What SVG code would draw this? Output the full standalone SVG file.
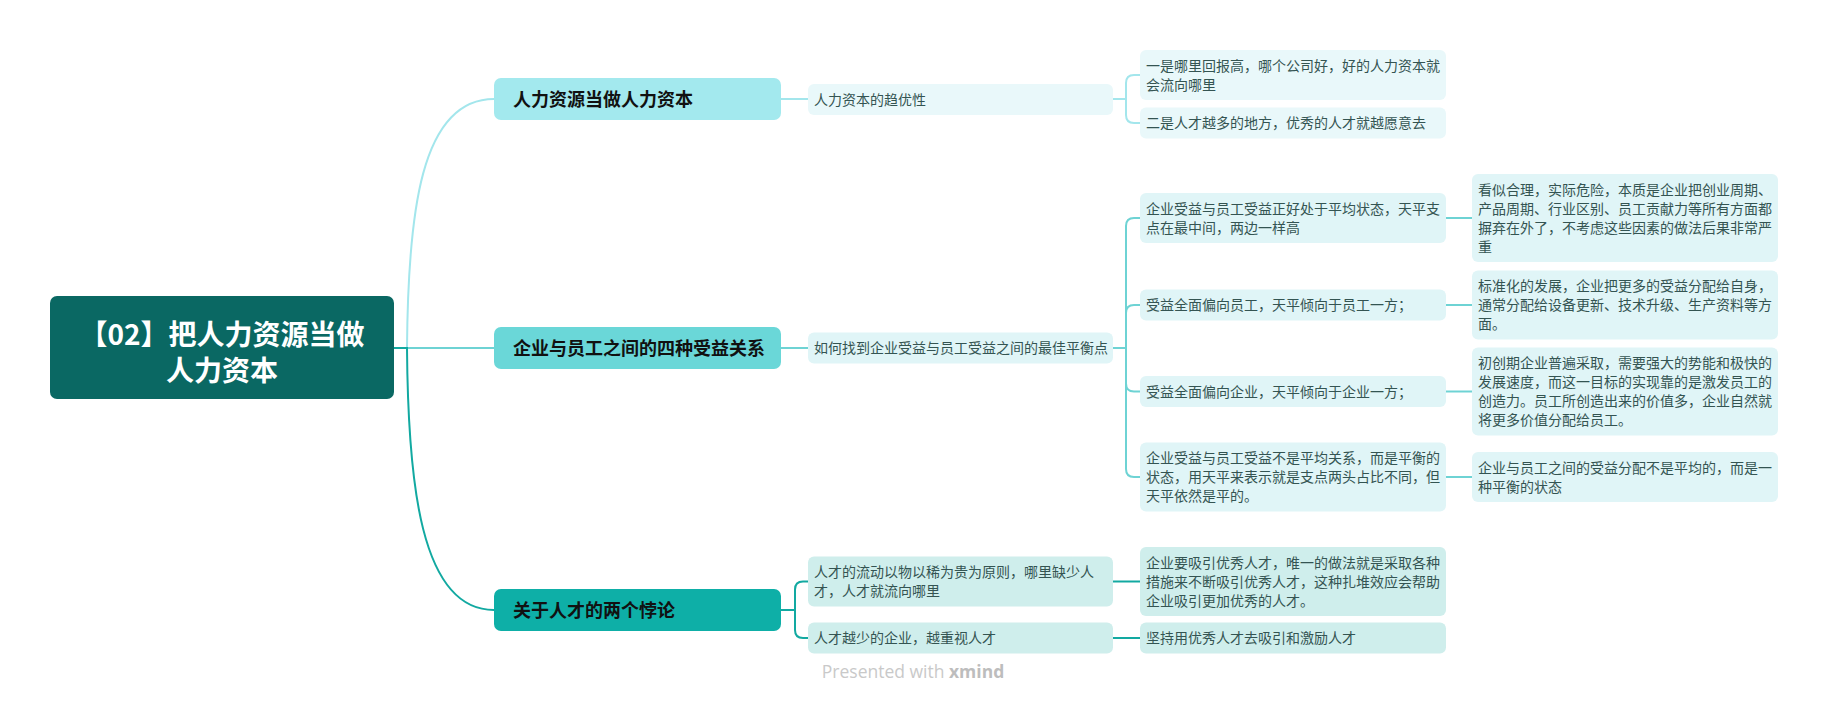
<svg xmlns="http://www.w3.org/2000/svg" width="1828" height="704" viewBox="0 0 1828 704">
<style>
.t{font-family:"Noto Sans CJK SC","Liberation Sans",sans-serif;}
.root{fill:#0a6863;}
.rt{font-size:28px;font-weight:bold;fill:#ffffff;text-anchor:middle;}
.bt{font-size:18px;font-weight:bold;fill:#111111;}
.st{font-size:14px;fill:#345452;}
.b1{fill:#a3e9ee;}
.b2{fill:#6ad7d8;}
.b3{fill:#0eafa7;}
.s1{fill:#e9f8fa;}
.s2{fill:#e0f5f7;}
.s3{fill:#cfeeec;}
.c1{stroke:#a3e6ec;}
.c2{stroke:#6ed3d4;}
.c3{stroke:#12a9a1;}
#connectors path{fill:none;stroke-width:2;}
</style>
<rect width="1828" height="704" fill="#ffffff"/>
<g id="connectors">
<path class="c2" d="M394 348 H494"/>
<path class="c1" d="M394 348 H407 C408 215 420 99 494 99"/>
<path class="c3" d="M394 348 H407 C408 481 420 610 494 610"/>
<path class="c1" d="M781 99 H808"/>
<path class="c2" d="M781 348 H808"/>
<path class="c3" d="M781 610 H795"/>
<path class="c3" d="M795 610 V589.5 Q795 581.5 803 581.5 H808"/>
<path class="c3" d="M795 610 V630 Q795 638 803 638 H808"/>
<path class="c1" d="M1113 99 H1126"/>
<path class="c1" d="M1126 99 V83 Q1126 75 1134 75 H1140"/>
<path class="c1" d="M1126 99 V115 Q1126 123 1134 123 H1140"/>
<path class="c2" d="M1113 348 H1126"/>
<path class="c2" d="M1126 348 V226 Q1126 218 1134 218 H1140"/>
<path class="c2" d="M1126 348 V313 Q1126 305 1134 305 H1140"/>
<path class="c2" d="M1126 348 V383.5 Q1126 391.5 1134 391.5 H1140"/>
<path class="c2" d="M1126 348 V469 Q1126 477 1134 477 H1140"/>
<path class="c3" d="M1113 581.5 H1140"/>
<path class="c3" d="M1113 638 H1140"/>
<path class="c2" d="M1446 218 H1472"/>
<path class="c2" d="M1446 305 H1472"/>
<path class="c2" d="M1446 391.5 H1472"/>
<path class="c2" d="M1446 477 H1472"/>
</g>
<g id="root">
<rect class="root" x="50" y="296" width="344" height="103" rx="7"/>
<text class="t rt" x="222" y="345">【02】把人力资源当做</text>
<text class="t rt" x="222" y="381">人力资本</text>
</g>
<g id="branch1">
<rect class="b1" x="494" y="78" width="287" height="42" rx="7"/>
<text class="t bt" x="513" y="106">人力资源当做人力资本</text>
</g>
<g id="branch2">
<rect class="b2" x="494" y="327" width="287" height="42" rx="7"/>
<text class="t bt" x="513" y="355">企业与员工之间的四种受益关系</text>
</g>
<g id="branch3">
<rect class="b3" x="494" y="589" width="287" height="42" rx="7"/>
<text class="t bt" x="513" y="617">关于人才的两个悖论</text>
</g>
<g id="sub1">
<rect class="s1" x="808" y="84" width="305" height="31" rx="6"/>
<text class="t st" x="814" y="104.5">人力资本的趋优性</text>
</g>
<g id="n1a">
<rect class="s1" x="1140" y="50" width="306" height="50" rx="6"/>
<text class="t st" x="1146" y="70.5">一是哪里回报高，哪个公司好，好的人力资本就</text>
<text class="t st" x="1146" y="89.5">会流向哪里</text>
</g>
<g id="n1b">
<rect class="s1" x="1140" y="107.5" width="306" height="31" rx="6"/>
<text class="t st" x="1146" y="128">二是人才越多的地方，优秀的人才就越愿意去</text>
</g>
<g id="sub2">
<rect class="s2" x="808" y="332.5" width="305" height="31" rx="6"/>
<text class="t st" x="814" y="353">如何找到企业受益与员工受益之间的最佳平衡点</text>
</g>
<g id="n2a">
<rect class="s2" x="1140" y="193" width="306" height="50" rx="6"/>
<text class="t st" x="1146" y="213.5">企业受益与员工受益正好处于平均状态，天平支</text>
<text class="t st" x="1146" y="232.5">点在最中间，两边一样高</text>
</g>
<g id="n2a1">
<rect class="s2" x="1472" y="174" width="306" height="88" rx="6"/>
<text class="t st" x="1478" y="194.5">看似合理，实际危险，本质是企业把创业周期、</text>
<text class="t st" x="1478" y="213.5">产品周期、行业区别、员工贡献力等所有方面都</text>
<text class="t st" x="1478" y="232.5">摒弃在外了，不考虑这些因素的做法后果非常严</text>
<text class="t st" x="1478" y="251.5">重</text>
</g>
<g id="n2b">
<rect class="s2" x="1140" y="289.5" width="306" height="31" rx="6"/>
<text class="t st" x="1146" y="310">受益全面偏向员工，天平倾向于员工一方；</text>
</g>
<g id="n2b1">
<rect class="s2" x="1472" y="270.5" width="306" height="69" rx="6"/>
<text class="t st" x="1478" y="291">标准化的发展，企业把更多的受益分配给自身，</text>
<text class="t st" x="1478" y="310">通常分配给设备更新、技术升级、生产资料等方</text>
<text class="t st" x="1478" y="329">面。</text>
</g>
<g id="n2c">
<rect class="s2" x="1140" y="376" width="306" height="31" rx="6"/>
<text class="t st" x="1146" y="396.5">受益全面偏向企业，天平倾向于企业一方；</text>
</g>
<g id="n2c1">
<rect class="s2" x="1472" y="347.5" width="306" height="88" rx="6"/>
<text class="t st" x="1478" y="368">初创期企业普遍采取，需要强大的势能和极快的</text>
<text class="t st" x="1478" y="387">发展速度，而这一目标的实现靠的是激发员工的</text>
<text class="t st" x="1478" y="406">创造力。员工所创造出来的价值多，企业自然就</text>
<text class="t st" x="1478" y="425">将更多价值分配给员工。</text>
</g>
<g id="n2d">
<rect class="s2" x="1140" y="442.5" width="306" height="69" rx="6"/>
<text class="t st" x="1146" y="463">企业受益与员工受益不是平均关系，而是平衡的</text>
<text class="t st" x="1146" y="482">状态，用天平来表示就是支点两头占比不同，但</text>
<text class="t st" x="1146" y="501">天平依然是平的。</text>
</g>
<g id="n2d1">
<rect class="s2" x="1472" y="452" width="306" height="50" rx="6"/>
<text class="t st" x="1478" y="472.5">企业与员工之间的受益分配不是平均的，而是一</text>
<text class="t st" x="1478" y="491.5">种平衡的状态</text>
</g>
<g id="sub3a">
<rect class="s3" x="808" y="556.5" width="305" height="50" rx="6"/>
<text class="t st" x="814" y="577">人才的流动以物以稀为贵为原则，哪里缺少人</text>
<text class="t st" x="814" y="596">才，人才就流向哪里</text>
</g>
<g id="n3a">
<rect class="s3" x="1140" y="547" width="306" height="69" rx="6"/>
<text class="t st" x="1146" y="567.5">企业要吸引优秀人才，唯一的做法就是采取各种</text>
<text class="t st" x="1146" y="586.5">措施来不断吸引优秀人才，这种扎堆效应会帮助</text>
<text class="t st" x="1146" y="605.5">企业吸引更加优秀的人才。</text>
</g>
<g id="sub3b">
<rect class="s3" x="808" y="622.5" width="305" height="31" rx="6"/>
<text class="t st" x="814" y="643">人才越少的企业，越重视人才</text>
</g>
<g id="n3b">
<rect class="s3" x="1140" y="622.5" width="306" height="31" rx="6"/>
<text class="t st" x="1146" y="643">坚持用优秀人才去吸引和激励人才</text>
</g>
<text x="913" y="678" text-anchor="middle" font-family="'Open Sans','Liberation Sans',sans-serif" font-size="17.5" fill="#c9c9c9">Presented with <tspan font-weight="bold" fill="#bdbdbd">xmind</tspan></text>
</svg>
